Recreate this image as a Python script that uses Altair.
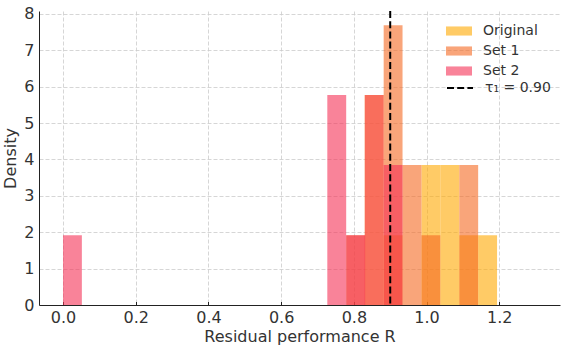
import altair as alt
import pandas as pd

# ---- data ----
series_names = ["Original", "Set 1", "Set 2"]
series_colors = ["#FFA800", "#F56921", "#F53055"]
bin_width = 0.0519

original_left = [0.830, 0.882, 0.986, 1.038, 1.090, 1.142]
original_density = [5.77, 1.92, 3.85, 3.85, 1.92, 1.92]

set1_left = [0.779, 0.882, 0.934, 0.986, 1.090]
set1_density = [1.92, 7.69, 3.85, 1.92, 3.85]

set2_left = [0.000, 0.727, 0.779, 0.830, 0.882]
set2_density = [1.92, 5.77, 1.92, 5.77, 3.85]

threshold = 0.90
threshold_label = "τ₁ = 0.90"

x_ticks = [0.0, 0.2, 0.4, 0.6, 0.8, 1.0, 1.2]
y_ticks = [0, 1, 2, 3, 4, 5, 6, 7, 8]
x_domain = [-0.066, 1.367]
y_domain = [0, 8.08]

rows = []
for name, lefts, dens in [
    ("Original", original_left, original_density),
    ("Set 1", set1_left, set1_density),
    ("Set 2", set2_left, set2_density),
]:
    for l, d in zip(lefts, dens):
        rows.append({"series": name, "x": l, "x2": l + bin_width, "density": d})
df = pd.DataFrame(rows)
rule_df = pd.DataFrame({"x": [threshold], "label": [threshold_label]})

FONT = "DejaVu Sans"
TXT = "#333333"
W, H = 521, 294

xscale = alt.Scale(domain=x_domain, nice=False, zero=False)
yscale = alt.Scale(domain=y_domain, nice=False, zero=True)

bars = alt.Chart(df).mark_bar(opacity=0.6, strokeWidth=0).encode(
    x=alt.X(
        "x:Q",
        scale=xscale,
        axis=alt.Axis(
            values=x_ticks, format=".1f", title="Residual performance R",
            orient="bottom", ticks=False, labelPadding=4, titlePadding=3,
        ),
    ),
    x2="x2:Q",
    y=alt.Y(
        "density:Q",
        scale=yscale,
        stack=None,
        axis=alt.Axis(values=y_ticks, format="d", title="Density", ticks=False,
                      labelPadding=5, titlePadding=5),
    ),
    y2=alt.datum(0),
    color=alt.Color(
        "series:N",
        scale=alt.Scale(domain=series_names, range=series_colors),
        legend=alt.Legend(
            title=None, orient="none", legendX=407, legendY=7, padding=0,
            symbolType="M-1,-0.35L1,-0.35L1,0.35L-1,0.35Z", symbolSize=676,
            symbolOpacity=0.6, symbolStrokeWidth=0, rowPadding=0,
            labelFontSize=14, labelFont=FONT, labelColor=TXT, labelOffset=11,
        ),
    ),
)

rule = alt.Chart(rule_df).mark_rule(color="black", strokeWidth=2).encode(
    x=alt.X(
        "x:Q", scale=xscale,
        axis=alt.Axis(values=x_ticks, orient="top", offset=-H, labels=False,
                      domain=False, grid=False, ticks=True, tickSize=3.5,
                      tickColor="#222222", tickWidth=1, title=None),
    ),
    strokeDash=alt.StrokeDash(
        "label:N",
        scale=alt.Scale(domain=[threshold_label], range=[[7, 3.2]]),
        legend=alt.Legend(
            title=None, orient="none", legendX=407, legendY=63, padding=0,
            symbolType="stroke", symbolSize=676, symbolStrokeColor="black",
            symbolStrokeWidth=2, labelFontSize=14, labelFont=FONT,
            labelColor=TXT, labelOffset=11,
        ),
    ),
)

chart = (
    alt.layer(bars, rule)
    .resolve_axis(x="independent")
    .properties(
        width=W, height=H,
        autosize=alt.AutoSizeParams(type="none"),
        padding={"left": 39, "top": 11, "right": 4, "bottom": 46},
        background="white",
    )
    .configure_view(stroke=None)
    .configure_axis(
        labelFont=FONT, titleFont=FONT, labelFontSize=16, titleFontSize=16,
        labelColor=TXT, titleColor=TXT, titleFontWeight="normal",
        domainColor="#222222", domainWidth=1,
        gridColor="#cccccc", gridDash=[4, 2], gridWidth=0.8,
    )
)

chart.save("out.html", embed_options={"renderer": "svg", "actions": False})
